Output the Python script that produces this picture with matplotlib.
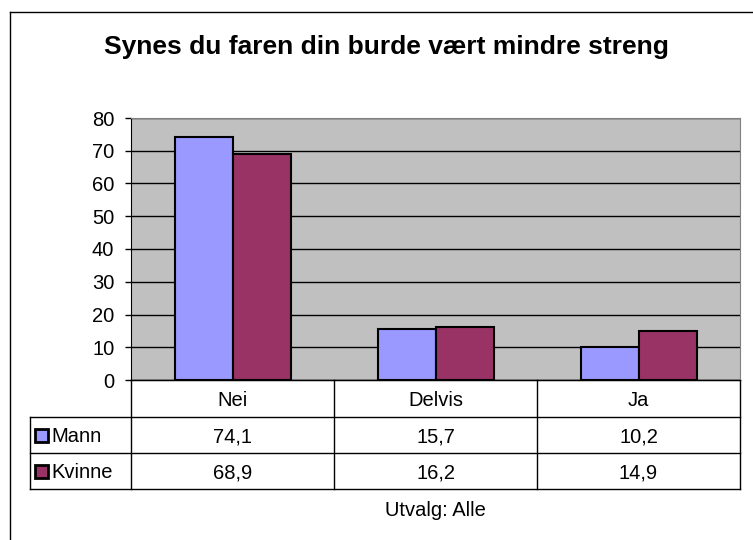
import matplotlib
matplotlib.use("Agg")
import matplotlib.pyplot as plt
import numpy as np
from matplotlib.transforms import blended_transform_factory
from matplotlib.patches import Rectangle
from matplotlib.lines import Line2D

categories = ["Nei", "Delvis", "Ja"]
series_names = ["Mann", "Kvinne"]
mann = [74.1, 15.7, 10.2]
kvinne = [68.9, 16.2, 14.9]
yticks = [0, 10, 20, 30, 40, 50, 60, 70, 80]
title = "Synes du faren din burde vært mindre streng"
footer = "Utvalg: Alle"
colors = ["#9999FF", "#993366"]

plt.rcParams['font.family'] = ['Liberation Sans', 'DejaVu Sans']

W, H = 753, 540
fig = plt.figure(figsize=(W / 100, H / 100), dpi=100)
fig.patch.set_facecolor("white")

# outer border (left and top visible; right/bottom beyond image)
fig.add_artist(Line2D([9.5 / W, 9.5 / W], [0, 1 - 11.5 / H], transform=fig.transFigure, color="black", lw=1))
fig.add_artist(Line2D([9.5 / W, 1], [1 - 11.5 / H, 1 - 11.5 / H], transform=fig.transFigure, color="black", lw=1))

L, R, T, B = 131, 740, 118, 380
ax = fig.add_axes([L / W, 1 - B / H, (R - L) / W, (B - T) / H])
ax.set_facecolor("#C0C0C0")

x = np.arange(len(categories))
bw = 58 / 203
ax.bar(x - bw / 2, mann, bw, color=colors[0], edgecolor="black", linewidth=1.5, zorder=3)
ax.bar(x + bw / 2, kvinne, bw, color=colors[1], edgecolor="black", linewidth=1.5, zorder=3)

FS = 14.5
ax.set_xlim(-0.5, 2.5)
ax.set_ylim(0, 80)
ax.set_yticks(yticks)
ax.set_yticklabels([str(v) for v in yticks], fontsize=FS)
ax.yaxis.grid(True, color="black", linewidth=1)
ax.set_axisbelow(True)
ax.set_xticks([])
ax.tick_params(axis="y", length=4, width=1, pad=8)
for s in ["top", "right"]:
    ax.spines[s].set_color("#808080")
ax.spines["left"].set_color("black")
ax.spines["bottom"].set_color("black")

# data table below axis
tr = blended_transform_factory(ax.transData, ax.transAxes)
ph = B - T
rows_px = [0, 37, 73, 109]
ys = [-r / ph for r in rows_px]
x_left = -0.5 - 101 / 203
col_edges = [-0.5, 0.5, 1.5, 2.5]
lw = 1
ax.plot([-0.5, 2.5], [ys[0], ys[0]], transform=tr, color="black", lw=lw, clip_on=False)
for yv in ys[1:]:
    ax.plot([x_left, 2.5], [yv, yv], transform=tr, color="black", lw=lw, clip_on=False)
for xe in col_edges:
    ax.plot([xe, xe], [ys[0], ys[-1]], transform=tr, color="black", lw=lw, clip_on=False)
ax.plot([x_left, x_left], [ys[1], ys[-1]], transform=tr, color="black", lw=lw, clip_on=False)

for i, c in enumerate(categories):
    ax.text(i, (ys[0] + ys[1]) / 2, c, transform=tr, ha="center", va="center_baseline", fontsize=FS)
for r, (name, vals) in enumerate(zip(series_names, [mann, kvinne])):
    yc = (ys[r + 1] + ys[r + 2]) / 2
    for i, v in enumerate(vals):
        ax.text(i, yc, f"{v:.1f}".replace(".", ","), transform=tr, ha="center", va="center_baseline", fontsize=FS)
    kx = x_left + 4.5 / 203
    kw = 13 / 203
    kh = 13 / ph
    ax.add_patch(Rectangle((kx, yc - kh / 2), kw, kh, transform=tr, facecolor=colors[r],
                           edgecolor="black", lw=2, clip_on=False))
    ax.text(kx + kw + 4 / 203, yc, name, transform=tr, ha="left", va="center_baseline", fontsize=FS)

ax.text(1, -(508 - B) / ph, footer, transform=tr, ha="center", va="center_baseline", fontsize=FS)

fig.text(386 / W, 1 - 47 / H, title, ha="center", va="center", fontsize=19, fontweight="bold")

fig.savefig("out.png", dpi=100)
